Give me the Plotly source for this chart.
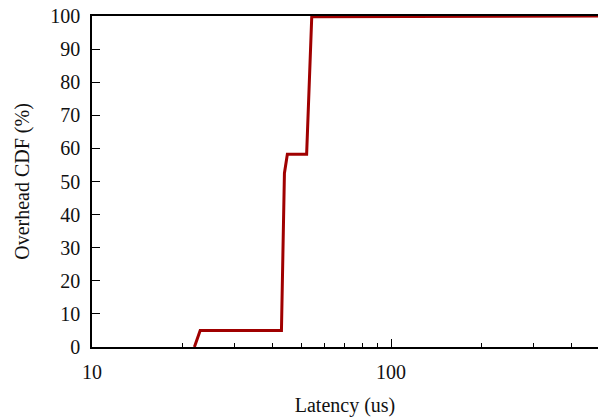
import plotly.graph_objects as go
import math

latency_us = [22, 23, 43, 44, 45, 52.2, 54.3, 500]
overhead_cdf = [0, 5, 5, 52.5, 58.2, 58.2, 99.8, 100]

x_major = [10, 100]
x_minor = [20, 30, 40, 50, 60, 70, 80, 90, 200, 300, 400, 500]
y_ticks = [0, 10, 20, 30, 40, 50, 60, 70, 80, 90, 100]

font = "Liberation Serif"

fig = go.Figure()
fig.add_trace(go.Scatter(
    x=latency_us, y=overhead_cdf, mode="lines",
    line=dict(color="#a00000", width=3), showlegend=False,
))

fig.update_layout(
    width=598, height=417,
    margin=dict(l=92, r=0, t=16, b=70),
    paper_bgcolor="white", plot_bgcolor="white",
    font=dict(family=font, size=20, color="#111"),
    xaxis=dict(
        type="log", range=[1, math.log10(492)], automargin=False,
        tickvals=x_major, ticktext=[str(v) for v in x_major],
        ticks="inside", ticklen=8, tickwidth=1, tickcolor="black",
        minor=dict(tickvals=x_minor, ticks="inside", ticklen=4, tickwidth=1, tickcolor="black", showgrid=False),
        showline=True, linecolor="black", linewidth=1.5, mirror=True,
        showgrid=False, zeroline=False,
        ticklabelstandoff=6, ticklabeloverflow="allow",
        title=dict(text="Latency (us)", standoff=16, font=dict(size=20)),
    ),
    yaxis=dict(
        range=[0, 100], tickvals=y_ticks, automargin=False,
        ticks="inside", ticklen=8, tickwidth=1, tickcolor="black",
        showline=True, linecolor="black", linewidth=1.5,
        showgrid=False, zeroline=False,
        ticklabelstandoff=6, ticklabeloverflow="allow",
        title=dict(text="Overhead CDF (%)", standoff=15, font=dict(size=20)),
    ),
)

fig.write_html(
    "out.html",
    config={"displayModeBar": False},
    post_script="document.body.style.margin='0';document.body.style.overflow='hidden';",
)
